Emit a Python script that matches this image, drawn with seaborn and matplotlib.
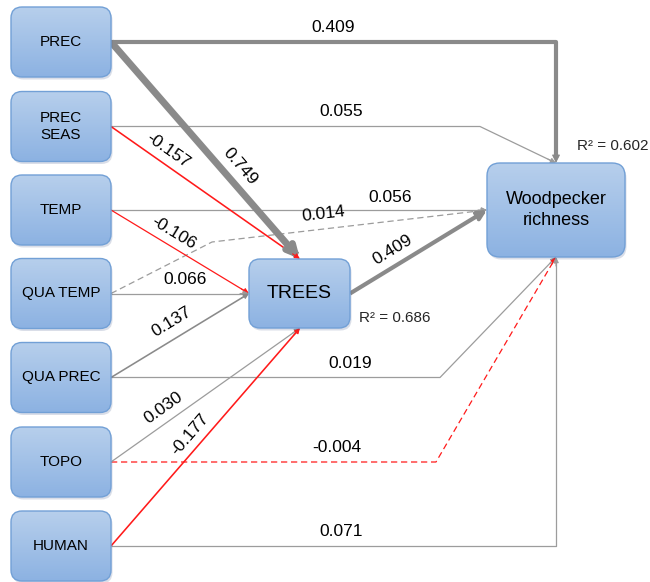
import numpy as np
import matplotlib
matplotlib.use("Agg")
import matplotlib.pyplot as plt
from matplotlib.patches import FancyBboxPatch
from matplotlib.colors import LinearSegmentedColormap
import seaborn as sns

# ---- path model ----
predictors = ["PREC", "PREC\nSEAS", "TEMP", "QUA TEMP", "QUA PREC", "TOPO", "HUMAN"]
mediator = "TREES"
response = "Woodpecker\nrichness"

path_sources = ["PREC", "PREC\nSEAS", "TEMP", "QUA TEMP", "QUA PREC", "TOPO", "HUMAN",
                "PREC", "PREC\nSEAS", "TEMP", "QUA TEMP", "QUA PREC", "TOPO", "HUMAN",
                "TREES"]
path_targets = ["WOOD"] * 7 + ["TREES"] * 7 + ["WOOD"]
path_coefs = [0.409, 0.055, 0.056, 0.014, 0.019, -0.004, 0.071,
              0.749, -0.157, -0.106, 0.066, 0.137, 0.030, -0.177,
              0.409]
path_significant = [True, True, True, False, True, False, True,
                    True, True, True, True, True, True, True,
                    True]
r2_trees = 0.686
r2_wood = 0.602

# ---- layout (pixel coordinates, y downwards) ----
W, H = 650, 582
sns.set_theme(style="white")
plt.rcParams["font.family"] = ["Liberation Sans", "DejaVu Sans"]

fig = plt.figure(figsize=(W / 100, H / 100), dpi=100)
ax = fig.add_axes([0, 0, 1, 1])
ax.set_axis_off()

box_x0, box_w, box_h = 11, 100, 70
box_cy = [42, 126.5, 210, 293.5, 377.5, 462, 546]
anchor = {name: (box_x0 + box_w, cy) for name, cy in zip(predictors, box_cy)}

trees_box = (249, 259, 101, 69)
wood_box = (487, 163, 138, 94)
T_top, T_left, T_bot, T_right = (300, 259), (249, 293.5), (300, 328), (350, 293.5)
W_top, W_left, W_bot = (556, 163), (487, 210), (556, 257)

# routes per path (waypoints after the source anchor)
routes = [
    [(556, 42), W_top],
    [(480, 126.5), W_top],
    [W_left],
    [(212, 242), W_left],
    [(440, 377.5), W_bot],
    [(436, 462), W_bot],
    [(556, 546), W_bot],
    [T_top],
    [T_top],
    [T_left],
    [T_left],
    [T_left],
    [T_bot],
    [T_bot],
    [W_left],
]
label_pos = [(333, 27), (341, 111), (390, 198), (323, 214), (350, 363), (337, 447), (341, 531),
             (240, 166), (168, 150), (174, 233), (185, 280), (172, 322), (163, 408), (190, 434),
             (393, 250)]
label_rot_seg = [None, None, None, -1, None, None, None,
                 0, 0, 0, None, 0, 0, 0, 0]

GRAY = "#8a8a8a"
LIGHT_GRAY = "#9c9c9c"
RED = "#ff1a1a"


def line_width(c):
    a = abs(c)
    if a > 0.7:
        return 5.0
    if a > 0.3:
        return 3.0
    if a > 0.12:
        return 1.15
    return 0.9


for src, tgt, coef, sig, route, lpos, rseg in zip(path_sources, path_targets, path_coefs,
                                                  path_significant, routes, label_pos, label_rot_seg):
    start = T_right if src == "TREES" else anchor[src]
    pts = [start] + route
    xs = [p[0] for p in pts]
    ys = [p[1] for p in pts]
    lw = line_width(coef)
    if coef < 0:
        col = RED
    else:
        col = GRAY if lw > 1 else LIGHT_GRAY
    ls = (0, (5, 3)) if not sig else "-"
    # stop the line slightly before the head
    (xa, ya), (xb, yb) = pts[-2], pts[-1]
    seg = np.hypot(xb - xa, yb - ya)
    ux, uy = (xb - xa) / seg, (yb - ya) / seg
    head = 9 if lw >= 3 else 6
    xs_l = xs[:-1] + [xb - ux * head * 0.6]
    ys_l = ys[:-1] + [yb - uy * head * 0.6]
    ax.plot(xs_l, ys_l, color=col, lw=lw, ls=ls, solid_capstyle="butt", zorder=2)
    open_head = lw >= 3 and not (src == "PREC" and tgt == "WOOD")
    style = "->" if open_head else "-|>"
    ax.annotate("", xy=(xb, yb), xytext=(xb - ux * head * 1.5, yb - uy * head * 1.5),
                arrowprops=dict(arrowstyle=style, color=col, lw=lw if open_head else 0.8,
                                shrinkA=0, shrinkB=0,
                                mutation_scale=(16 if lw >= 5 else 13) if open_head else (12 if lw >= 3 else 8)),
                zorder=3)
    rot = 0
    if rseg is not None:
        i = rseg if rseg >= 0 else len(pts) - 2
        (x1, y1), (x2, y2) = pts[i], pts[i + 1]
        rot = -np.degrees(np.arctan2(y2 - y1, x2 - x1))
    ax.text(lpos[0], lpos[1], f"{coef:.3f}", fontsize=12.5, color="black",
            ha="center", va="center", rotation=rot, rotation_mode="anchor", zorder=6)

# ---- boxes ----
box_cmap = LinearSegmentedColormap.from_list("boxgrad", ["#b7cfec", "#8cb2e2"])
grad = np.linspace(0, 1, 128).reshape(-1, 1)


def draw_box(x0, y0, w, h, text, fs, rounding=11):
    shadow = FancyBboxPatch((x0 + 1.5, y0 + 2.5), w, h,
                            boxstyle=f"round,pad=0,rounding_size={rounding}",
                            fc=(0.2, 0.3, 0.5, 0.18), ec="none", zorder=3)
    ax.add_patch(shadow)
    frame = FancyBboxPatch((x0, y0), w, h, boxstyle=f"round,pad=0,rounding_size={rounding}",
                           fc="none", ec="#72a0d6", lw=1.0, zorder=5)
    ax.add_patch(frame)
    im = ax.imshow(grad, extent=(x0, x0 + w, y0 + h, y0), origin="upper",
                   cmap=box_cmap, aspect="auto", zorder=4, interpolation="bilinear")
    im.set_clip_path(frame)
    ax.text(x0 + w / 2, y0 + h / 2, text, ha="center", va="center", fontsize=fs,
            linespacing=1.25, color="black", zorder=6)


for name, cy in zip(predictors, box_cy):
    draw_box(box_x0, cy - box_h / 2, box_w, box_h, name, 11)
draw_box(*trees_box, mediator, 14)
draw_box(*wood_box, response, 13, rounding=13)

ax.text(395, 318, f"R\u00b2 = {r2_trees:.3f}", fontsize=11, ha="center", va="center", zorder=6)
ax.text(613, 146, f"R\u00b2 = {r2_wood:.3f}", fontsize=11, ha="center", va="center", zorder=6)

ax.set_xlim(0, W)
ax.set_ylim(H, 0)
fig.savefig("out.png", dpi=100, facecolor="white")
